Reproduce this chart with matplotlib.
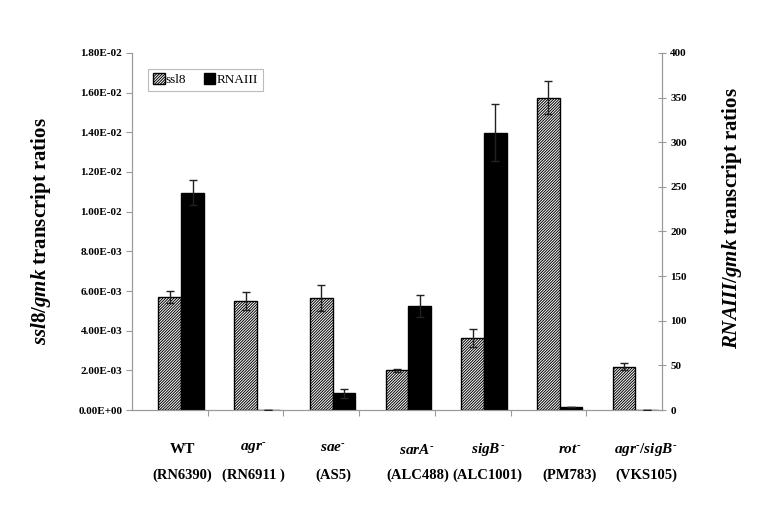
import matplotlib.pyplot as plt
import numpy as np
from matplotlib.ticker import FuncFormatter, MultipleLocator
from matplotlib.patches import Patch

# -----------------------------------
# Data
# -----------------------------------

strains = ["WT", "agr", "sae", "sarA", "sigB", "rot", "agr/sigB"]
strain_labels = [
    "WT",
    "$agr^{\u2010}$",
    "$sae^{\u2010}$",
    "$sarA^{\u2010}$",
    "$sigB^{\u2010}$",
    "$rot^{\u2010}$",
    "$agr^{\u2010}/sigB^{\u2010}$",
]
strain_ids = ["(RN6390)", "(RN6911 )", "(AS5)", "(ALC488)",
              "(ALC1001)", "(PM783)", "(VKS105)"]

# ssl8/gmk ratios (left axis)
ssl8 = [5.69e-3, 5.51e-3, 5.64e-3, 2.00e-3, 3.64e-3, 1.575e-2, 2.19e-3]
ssl8_err = [0.32e-3, 0.45e-3, 0.64e-3, 0.09e-3, 0.44e-3, 0.84e-3, 0.17e-3]

# RNAIII/gmk ratios (right axis)
rnaiii = [243.4, 0.4, 18.7, 116.9, 310.8, 2.9, 0.4]
rnaiii_err = [14.2, 0, 4.9, 12.4, 32.2, 0, 0]

# -----------------------------------
# Style
# -----------------------------------

plt.rcParams["font.family"] = ["Liberation Serif", "DejaVu Serif"]
plt.rcParams["mathtext.fontset"] = "custom"
plt.rcParams["mathtext.it"] = "Liberation Serif:italic:bold"
plt.rcParams["mathtext.rm"] = "Liberation Serif:bold"
plt.rcParams["mathtext.bf"] = "Liberation Serif:bold"
plt.rcParams["hatch.linewidth"] = 0.7

axis_gray = "#9a9a9a"
hatch = "/" * 12

fig = plt.figure(figsize=(7.66, 5.32), dpi=100)
ax = fig.add_axes([0.1723, 0.2293, 0.6919, 0.6711])
ax2 = ax.twinx()

x = np.arange(len(strains))
w = 0.3

# -----------------------------------
# Bars
# -----------------------------------

ax.bar(x, ssl8, width=w, color="white", edgecolor="black",
       hatch=hatch, linewidth=1, zorder=2)
ax.errorbar(x, ssl8, yerr=ssl8_err, fmt="none", ecolor="#222222",
            elinewidth=1, capsize=3, capthick=1, zorder=3)

ax2.bar(x + w, rnaiii, width=w, color="black", edgecolor="black",
        linewidth=1, zorder=2)
ax2.errorbar(x + w, rnaiii, yerr=rnaiii_err, fmt="none", ecolor="#222222",
             elinewidth=1, capsize=3, capthick=1, zorder=3)

# -----------------------------------
# Axes
# -----------------------------------

ax.set_xlim(-0.5, len(strains) - 0.5)
ax.set_ylim(0, 0.018)
ax2.set_ylim(0, 400)

ax.yaxis.set_major_locator(MultipleLocator(0.002))
ax.yaxis.set_major_formatter(FuncFormatter(lambda v, p: "{:.2E}".format(v)))
ax2.yaxis.set_major_locator(MultipleLocator(50))

ax.set_xticks(np.arange(0.5, len(strains) - 0.5, 1.0))
ax.set_xticklabels([])

for a in (ax, ax2):
    for s in a.spines.values():
        s.set_color(axis_gray)
    a.spines["top"].set_visible(False)

ax.tick_params(axis="y", direction="out", length=4, color=axis_gray,
               labelsize=8, pad=3)
ax.tick_params(axis="x", direction="out", length=4, color=axis_gray)
ax2.tick_params(axis="y", direction="inout", length=6, color=axis_gray,
                labelsize=8, pad=3)

for lab in ax.get_yticklabels() + ax2.get_yticklabels():
    lab.set_fontweight("bold")

ax.set_ylabel(r"$ssl8/gmk$ transcript ratios", fontsize=15,
              fontweight="bold")
ax2.set_ylabel(r"$RNAIII/gmk$ transcript ratios", fontsize=15,
               fontweight="bold")
ax.yaxis.set_label_coords(-0.149, 0.5)
ax2.yaxis.set_label_coords(1.109, 0.538)

# -----------------------------------
# Strain labels
# -----------------------------------

nudge = [0.17, 0.1, 0.16, 0.27, 0.2, 0.28, 0.29]

for i in range(len(strains)):
    ax.text(x[i] + nudge[i], -0.0020, strain_labels[i], ha="center",
            va="center", fontsize=11, fontweight="bold")
    ax.text(x[i] + nudge[i], -0.0033, strain_ids[i], ha="center",
            va="center", fontsize=10.5, fontweight="bold")

# -----------------------------------
# Legend
# -----------------------------------

handles = [
    Patch(facecolor="white", edgecolor="black", hatch=hatch, label="ssl8"),
    Patch(facecolor="black", edgecolor="black", label="RNAIII"),
]
leg = ax2.legend(handles=handles, loc="upper left",
                 bbox_to_anchor=(0.018, 0.975), ncol=2, fontsize=9.5,
                 handlelength=0.9, handleheight=0.9, handletextpad=0.1,
                 columnspacing=1.3, borderpad=0.35, fancybox=False,
                 framealpha=1)
leg.get_frame().set_edgecolor("#bbbbbb")
leg.get_frame().set_linewidth(0.8)

fig.savefig("out.png", dpi=100)
